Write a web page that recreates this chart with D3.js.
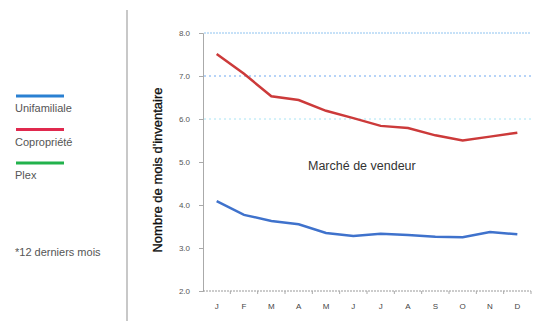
<!DOCTYPE html>
<html>
<head>
<meta charset="utf-8">
<script src="https://cdn.jsdelivr.net/npm/d3@7"></script>
<style>
  body { margin: 0; background: #fff; }
  text { font-family: "Liberation Sans", Arial, sans-serif; }
</style>
</head>
<body>
<div id="chart"></div>
<script>
const months = ["J", "F", "M", "A", "M", "J", "J", "A", "S", "O", "N", "D"];
const unifamiliale = [4.09, 3.77, 3.63, 3.55, 3.35, 3.28, 3.33, 3.30, 3.26, 3.25, 3.37, 3.32];
const copropriete = [7.51, 7.05, 6.53, 6.44, 6.19, 6.02, 5.84, 5.79, 5.62, 5.50, 5.59, 5.68];
const yTicks = [2, 3, 4, 5, 6, 7, 8];
const gridValues = [6, 7, 8];
const legendItems = [
  { name: "Unifamiliale", color: "#2a80d2" },
  { name: "Copropriété", color: "#e0294e" },
  { name: "Plex", color: "#22b24c" }
];

const width = 549, height = 321;
const svg = d3.select("#chart").append("svg")
  .attr("width", width).attr("height", height);

// left divider
svg.append("line")
  .attr("x1", 127).attr("x2", 127).attr("y1", 10).attr("y2", height)
  .attr("stroke", "#c8c8c8").attr("stroke-width", 2);

// legend
const leg = svg.append("g");
legendItems.forEach((d, i) => {
  const y0 = 96 + i * 33.5;
  leg.append("line")
    .attr("x1", 16).attr("x2", 64).attr("y1", y0).attr("y2", y0)
    .attr("stroke", d.color).attr("stroke-width", 3);
  leg.append("text")
    .attr("x", 15).attr("y", y0 + 16)
    .attr("font-size", 11).attr("fill", "#555")
    .text(d.name);
});
leg.append("text")
  .attr("x", 15).attr("y", 256)
  .attr("font-size", 11).attr("fill", "#555")
  .text("*12 derniers mois");

const x = d3.scaleBand()
  .domain(d3.range(months.length))
  .range([203, 531]);

const y = d3.scaleLinear()
  .domain([2, 8])
  .range([291, 33]);

// grid
svg.append("g").selectAll("line")
  .data(gridValues)
  .join("line")
    .attr("x1", 204).attr("x2", 531)
    .attr("y1", d => y(d)).attr("y2", d => y(d))
    .attr("stroke", d => d === 8 ? "#8ec3f0" : (d === 7 ? "#6fa8f0" : "#a8e4f4"))
    .attr("stroke-width", 1)
    .attr("stroke-dasharray", d => d === 8 ? "2,1" : "2,3");

// y axis
svg.append("g")
  .attr("transform", "translate(203,0)")
  .call(d3.axisLeft(y).tickValues(yTicks).tickFormat(d3.format(".1f")).tickSize(4).tickPadding(9))
  .call(g => g.select(".domain").attr("stroke", "#aaa"))
  .call(g => g.selectAll(".tick line").attr("stroke", "#aaa"))
  .call(g => g.selectAll(".tick text").attr("font-size", 8).attr("fill", "#555")
    .attr("font-family", "Liberation Sans, Arial, sans-serif"));

// x axis
const xg = svg.append("g").attr("transform", "translate(0,291)");
xg.append("line")
  .attr("x1", 203).attr("x2", 531)
  .attr("stroke", "#999").attr("stroke-dasharray", "2,1");
xg.selectAll("line.tk")
  .data(d3.range(1, months.length + 1))
  .join("line")
    .attr("class", "tk")
    .attr("x1", d => 203 + d * x.step()).attr("x2", d => 203 + d * x.step())
    .attr("y1", 0).attr("y2", 3)
    .attr("stroke", "#aaa");
xg.selectAll("text")
  .data(months)
  .join("text")
    .attr("x", (d, i) => x(i) + x.bandwidth() / 2)
    .attr("y", 18)
    .attr("text-anchor", "middle")
    .attr("font-size", 8).attr("fill", "#444")
    .text(d => d);

// y axis title
svg.append("text")
  .attr("transform", "translate(162,170) rotate(-90)")
  .attr("text-anchor", "middle")
  .attr("font-size", 13).attr("fill", "#111")
  .attr("stroke", "#111").attr("stroke-width", 0.3)
  .text("Nombre de mois d'inventaire");

const line = d3.line()
  .x((d, i) => x(i) + x.bandwidth() / 2)
  .y(d => y(d));

svg.append("path")
  .datum(copropriete)
  .attr("d", line)
  .attr("fill", "none")
  .attr("stroke", "#cc3a3a")
  .attr("stroke-width", 2.5);

svg.append("path")
  .datum(unifamiliale)
  .attr("d", line)
  .attr("fill", "none")
  .attr("stroke", "#3f72cc")
  .attr("stroke-width", 2.5);

svg.append("text")
  .attr("x", 308).attr("y", 170)
  .attr("font-size", 12.5).attr("fill", "#333")
  .text("Marché de vendeur");
</script>
</body>
</html>
